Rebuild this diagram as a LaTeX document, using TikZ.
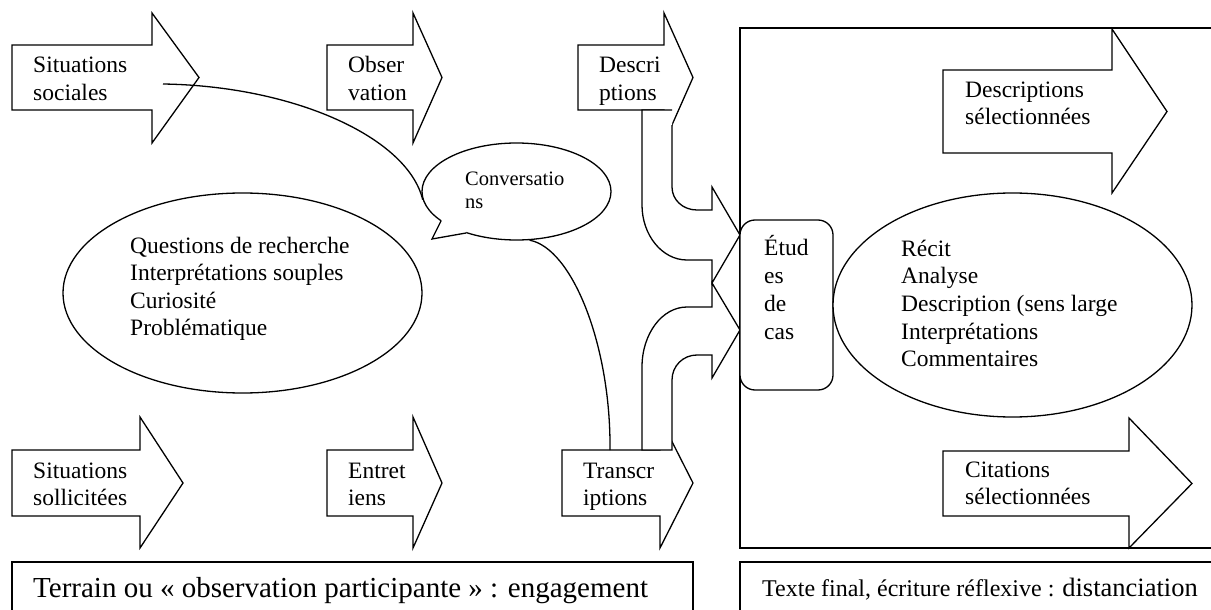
\documentclass[tikz,border=0pt]{standalone}
\usepackage{fontspec}
\setmainfont{Liberation Serif}
\usetikzlibrary{shapes.geometric}

% left-aligned stacked lines, baseline on the first line
\newcommand{\txtlines}[1]{\begin{tabular}[t]{@{}l@{}}#1\end{tabular}}

% block arrow: left x, shaft top y, shaft bottom y, head x, head top y, head bottom y, tip x
\newcommand{\blockarrow}[7]{%
  \draw[outline] (#1,#2) -- (#4,#2) -- (#4,#5) -- (#7,{(#2+#3)/2}) -- (#4,#6)
    -- (#4,#3) -- (#1,#3) -- cycle;}

\tikzset{
  outline/.style={draw=black, line width=1.3pt, fill=white},
  stroke/.style={draw=black, line width=1.3pt},
  lbl/.style={inner sep=0pt, anchor=base west, font=\fontsize{23.5}{27.5}\selectfont},
  smalllbl/.style={inner sep=0pt, anchor=base west, font=\fontsize{20.5}{23}\selectfont},
  bubble/.style={ellipse, draw=black, line width=1.3pt, fill=white, inner sep=0pt},
}

\begin{document}
\begin{tikzpicture}[x=1pt, y=-1pt]
\useasboundingbox (0,0) rectangle (1211,610);
\fill[white] (0,0) rectangle (1211,610);
\clip (0,0) rectangle (1211,610);

% frame of the final text
\draw[stroke] (1220,28) -- (740,28) -- (740,548) -- (1220,548);

% bottom captions
\draw[stroke] (12,620) -- (12,562) -- (693,562) -- (693,620);
\draw[stroke] (740,620) -- (740,562) -- (1220,562);
\node[inner sep=0pt, anchor=base west, font=\fontsize{29}{33}\selectfont] (terrain) at (33,597)
  {Terrain ou « observation participante » : engagement};
\node[inner sep=0pt, anchor=base west] (texte) at (762,596)
  {\fontsize{24}{28}\selectfont Texte final, écriture réflexive : \fontsize{26.5}{30}\selectfont distanciation};

% field arrows
\blockarrow{12}{45}{110}{152}{13}{143}{199}
\blockarrow{327}{45}{110}{413}{13}{143}{442}
\blockarrow{578}{45}{110}{664}{13}{143}{693}
\blockarrow{12}{450}{516}{140}{417}{548}{183}
\blockarrow{327}{450}{516}{413}{417}{548}{442}
\blockarrow{562}{450}{516}{660}{418}{548}{693}

\node[lbl] (soc) at (33,73) {\txtlines{Situations\\sociales}};
\node[lbl] (obs) at (348,73) {\txtlines{Obser\\vation}};
\node[lbl] (desc) at (599,73) {\txtlines{Descri\\ptions}};
\node[lbl] (sol) at (33,478) {\txtlines{Situations\\sollicitées}};
\node[lbl] (ent) at (348,478) {\txtlines{Entret\\iens}};
\node[lbl] (trans) at (583,478) {\txtlines{Transcr\\iptions}};

% bent arrow from the descriptions down into the case studies
\fill[white] (642,110) -- (642,205) .. controls (642,235) and (662,260) .. (687,260)
  -- (712,260) -- (712,283) -- (740,235) -- (712,187) -- (712,210) -- (697,210)
  .. controls (683,210) and (672,200) .. (672,187) -- (672,110) -- cycle;
\draw[stroke] (672,110) -- (642,110) -- (642,205) .. controls (642,235) and (662,260) .. (687,260)
  -- (712,260) -- (712,283) -- (740,235) -- (712,187) -- (712,210) -- (697,210)
  .. controls (683,210) and (672,200) .. (672,187) -- (672,125);

% bent arrow from the transcriptions up into the case studies
\draw[outline] (642,450) -- (642,367) .. controls (642,334) and (662,307) .. (687,307)
  -- (712,307) -- (712,283) -- (740,330) -- (712,378) -- (712,355) -- (697,355)
  .. controls (683,355) and (672,366) .. (672,380) -- (672,450) -- cycle;

% case studies
\node[draw=black, line width=1.3pt, fill=white, rounded corners=15pt, inner sep=0pt,
  minimum width=93pt, minimum height=170pt] (etudes) at (786.5,305) {};
\node[lbl, font=\fontsize{23.5}{28}\selectfont] (etudestxt) at (764,255) {\txtlines{Étud\\es\\de\\cas}};

% writing
\node[bubble, minimum width=359pt, minimum height=224pt] (ecrit) at (1012.5,305) {};
\node[lbl, font=\fontsize{23.5}{27.7}\selectfont] (ecrittxt) at (901,256)
  {\txtlines{Récit\\Analyse\\Description (sens large\\Interprétations\\Commentaires}};

\blockarrow{943}{70}{153}{1112}{29}{193}{1167}
\node[lbl] (descsel) at (965,97) {\txtlines{Descriptions\\sélectionnées}};
\blockarrow{943}{451}{516}{1129}{418}{548}{1192}
\node[lbl] (citsel) at (965,477) {\txtlines{Citations\\sélectionnées}};

% research questions
\node[bubble, minimum width=359pt, minimum height=200pt] (quest) at (242.5,293) {};
\node[lbl] (questtxt) at (130,253)
  {\txtlines{Questions de recherche\\Interprétations souples\\Curiosité\\Problématique}};

% conversations bubble with its tail
\node[bubble, minimum width=189pt, minimum height=97pt] (conv) at (516.5,191.5) {};
\fill[white] (441,221) -- (432,239) -- (466,233) -- (467,229) -- (444,218) -- cycle;
\draw[stroke] (441,221) -- (432,239) -- (466,233);
\node[smalllbl] (convtxt) at (465,185) {\txtlines{Conversatio\\ns}};

% links of the conversations
\coordinate (socIn) at (163,84);
\coordinate (transTop) at (610,450);
\draw[stroke] (socIn) .. controls (295,86) and (408,138) .. (conv.185);
\draw[stroke] (conv.285) .. controls (572,248) and (611,345) .. (transTop);
\end{tikzpicture}
\end{document}
